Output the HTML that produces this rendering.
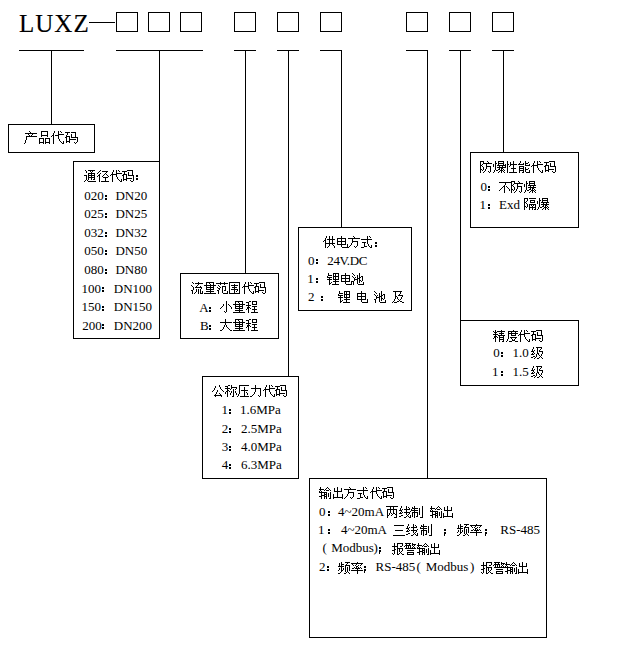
<!DOCTYPE html>
<html><head><meta charset="utf-8">
<style>
html,body{margin:0;padding:0;background:#fff;}
body{width:621px;height:656px;position:relative;overflow:hidden;font-family:"Liberation Serif",serif;color:#000;}
.h{position:absolute;height:1px;background:#000;}
.v{position:absolute;width:1px;background:#000;}
.sq{position:absolute;top:12px;width:20px;height:18px;border:1px solid #000;}
.bx{position:absolute;border:1px solid #000;box-sizing:border-box;}
.t{position:absolute;white-space:nowrap;font-size:12.5px;line-height:16px;color:#000;}
.g{position:absolute;shape-rendering:crispEdges;fill:#000;}
.k{position:absolute;width:2px;height:2px;background:#000;box-shadow:0 3px 0 #000;}
.s{position:absolute;width:2px;height:2px;background:#000;}
.s:after{content:'';position:absolute;left:0;top:3px;width:2px;height:2px;background:#000;}
.s:before{content:'';position:absolute;left:0;top:5px;width:1px;height:2px;background:#000;}
</style></head><body>
<div class="t" style="left:19px;top:9px;font-size:25px;line-height:30px;letter-spacing:1px;color:#000;-webkit-text-stroke:0.15px #000;">LUXZ</div>
<div class="h" style="left:89px;top:22px;width:26px;"></div>
<div class="sq" style="left:116px"></div>
<div class="sq" style="left:148px"></div>
<div class="sq" style="left:180px"></div>
<div class="sq" style="left:234px"></div>
<div class="sq" style="left:277px"></div>
<div class="sq" style="left:320px"></div>
<div class="sq" style="left:406px"></div>
<div class="sq" style="left:449px"></div>
<div class="sq" style="left:492px"></div>

<div class="h" style="left:19px;top:50px;width:65px;"></div>
<div class="h" style="left:116px;top:50px;width:87px;"></div>
<div class="h" style="left:234px;top:50px;width:22px;"></div>
<div class="h" style="left:277px;top:50px;width:22px;"></div>
<div class="h" style="left:320px;top:50px;width:22px;"></div>
<div class="h" style="left:406px;top:50px;width:22px;"></div>
<div class="h" style="left:449px;top:50px;width:22px;"></div>
<div class="h" style="left:492px;top:50px;width:22px;"></div>

<div class="v" style="left:51px;top:50px;height:75px;"></div>
<div class="v" style="left:159px;top:50px;height:112px;"></div>
<div class="v" style="left:245px;top:50px;height:224px;"></div>
<div class="v" style="left:288px;top:50px;height:327px;"></div>
<div class="v" style="left:341px;top:50px;height:178px;"></div>
<div class="v" style="left:427px;top:50px;height:429px;"></div>
<div class="v" style="left:460px;top:50px;height:271px;"></div>
<div class="v" style="left:503px;top:50px;height:103px;"></div>

<div class="bx" style="left:8px;top:124px;width:87px;height:29px;"></div>
<div class="bx" style="left:73px;top:161px;width:87px;height:178px;"></div>
<div class="bx" style="left:180px;top:273px;width:99px;height:66px;"></div>
<div class="bx" style="left:298px;top:227px;width:114px;height:84px;"></div>
<div class="bx" style="left:202px;top:376px;width:97px;height:103px;"></div>
<div class="bx" style="left:470px;top:152px;width:109px;height:76px;"></div>
<div class="bx" style="left:460px;top:320px;width:119px;height:66px;"></div>
<div class="bx" style="left:309px;top:478px;width:238px;height:160px;"></div>

<svg class="g" style="left:24px;top:131px" width="54" height="13" viewBox="0 0 54 13"><title>产品代码</title><path d="M5 0h1v1h-1zM17 0h7v1h-7zM30 0h1v1h-1zM34 0h1v1h-1zM36 0h1v1h-1zM6 1h1v1h-1zM17 1h1v1h-1zM23 1h1v1h-1zM30 1h1v1h-1zM34 1h1v1h-1zM37 1h1v1h-1zM41 1h5v1h-5zM47 1h5v1h-5zM1 2h12v1h-12zM17 2h1v1h-1zM23 2h1v1h-1zM29 2h1v1h-1zM34 2h1v1h-1zM43 2h1v1h-1zM51 2h1v1h-1zM4 3h1v1h-1zM8 3h1v1h-1zM17 3h1v1h-1zM23 3h1v1h-1zM29 3h1v1h-1zM34 3h6v1h-6zM43 3h1v1h-1zM47 3h1v1h-1zM51 3h1v1h-1zM5 4h1v1h-1zM7 4h1v1h-1zM17 4h7v1h-7zM28 4h2v1h-2zM31 4h4v1h-4zM42 4h1v1h-1zM47 4h1v1h-1zM51 4h1v1h-1zM2 5h11v1h-11zM17 5h1v1h-1zM23 5h1v1h-1zM27 5h1v1h-1zM29 5h1v1h-1zM34 5h1v1h-1zM42 5h4v1h-4zM47 5h1v1h-1zM51 5h1v1h-1zM2 6h1v1h-1zM29 6h1v1h-1zM34 6h1v1h-1zM41 6h2v1h-2zM45 6h1v1h-1zM47 6h7v1h-7zM2 7h1v1h-1zM15 7h5v1h-5zM21 7h5v1h-5zM29 7h1v1h-1zM34 7h1v1h-1zM42 7h1v1h-1zM45 7h1v1h-1zM53 7h1v1h-1zM2 8h1v1h-1zM15 8h1v1h-1zM19 8h1v1h-1zM21 8h1v1h-1zM25 8h1v1h-1zM29 8h1v1h-1zM35 8h1v1h-1zM42 8h1v1h-1zM45 8h7v1h-7zM53 8h1v1h-1zM1 9h1v1h-1zM15 9h1v1h-1zM19 9h1v1h-1zM21 9h1v1h-1zM25 9h1v1h-1zM29 9h1v1h-1zM35 9h1v1h-1zM42 9h1v1h-1zM45 9h1v1h-1zM53 9h1v1h-1zM1 10h1v1h-1zM15 10h1v1h-1zM19 10h1v1h-1zM21 10h1v1h-1zM25 10h1v1h-1zM29 10h1v1h-1zM36 10h1v1h-1zM39 10h1v1h-1zM42 10h4v1h-4zM53 10h1v1h-1zM1 11h1v1h-1zM15 11h5v1h-5zM21 11h5v1h-5zM29 11h1v1h-1zM37 11h1v1h-1zM39 11h1v1h-1zM42 11h1v1h-1zM45 11h1v1h-1zM50 11h1v1h-1zM52 11h1v1h-1zM0 12h1v1h-1zM15 12h1v1h-1zM19 12h1v1h-1zM21 12h1v1h-1zM25 12h1v1h-1zM29 12h1v1h-1zM38 12h2v1h-2zM51 12h1v1h-1z"/></svg>
<svg class="g" style="left:84px;top:170px" width="50" height="12" viewBox="0 0 50 12"><title>通径代码</title><path d="M1 0h1v1h-1zM4 0h7v1h-7zM16 0h1v1h-1zM29 0h1v1h-1zM32 0h1v1h-1zM34 0h1v1h-1zM43 0h6v1h-6zM2 1h1v1h-1zM6 1h1v1h-1zM8 1h1v1h-1zM15 1h1v1h-1zM18 1h6v1h-6zM29 1h1v1h-1zM32 1h1v1h-1zM35 1h1v1h-1zM38 1h5v1h-5zM48 1h1v1h-1zM2 2h1v1h-1zM7 2h1v1h-1zM14 2h1v1h-1zM22 2h1v1h-1zM28 2h1v1h-1zM32 2h1v1h-1zM40 2h1v1h-1zM44 2h1v1h-1zM48 2h1v1h-1zM4 3h7v1h-7zM13 3h1v1h-1zM16 3h1v1h-1zM21 3h1v1h-1zM28 3h1v1h-1zM32 3h6v1h-6zM40 3h1v1h-1zM44 3h1v1h-1zM48 3h1v1h-1zM4 4h1v1h-1zM7 4h1v1h-1zM10 4h1v1h-1zM15 4h1v1h-1zM20 4h1v1h-1zM22 4h1v1h-1zM27 4h6v1h-6zM39 4h4v1h-4zM44 4h1v1h-1zM48 4h1v1h-1zM0 5h3v1h-3zM4 5h7v1h-7zM14 5h2v1h-2zM19 5h1v1h-1zM23 5h1v1h-1zM26 5h1v1h-1zM28 5h1v1h-1zM32 5h1v1h-1zM38 5h2v1h-2zM42 5h1v1h-1zM44 5h6v1h-6zM2 6h1v1h-1zM4 6h1v1h-1zM7 6h1v1h-1zM10 6h1v1h-1zM13 6h1v1h-1zM15 6h1v1h-1zM18 6h1v1h-1zM24 6h1v1h-1zM28 6h1v1h-1zM32 6h1v1h-1zM39 6h1v1h-1zM42 6h1v1h-1zM49 6h1v1h-1zM2 7h1v1h-1zM4 7h7v1h-7zM15 7h1v1h-1zM19 7h5v1h-5zM28 7h1v1h-1zM33 7h1v1h-1zM39 7h1v1h-1zM42 7h1v1h-1zM49 7h1v1h-1zM2 8h1v1h-1zM4 8h1v1h-1zM7 8h1v1h-1zM10 8h1v1h-1zM15 8h1v1h-1zM21 8h1v1h-1zM28 8h1v1h-1zM33 8h1v1h-1zM39 8h1v1h-1zM42 8h6v1h-6zM49 8h1v1h-1zM2 9h1v1h-1zM4 9h1v1h-1zM7 9h1v1h-1zM9 9h2v1h-2zM15 9h1v1h-1zM21 9h1v1h-1zM28 9h1v1h-1zM34 9h1v1h-1zM37 9h1v1h-1zM39 9h4v1h-4zM49 9h1v1h-1zM1 10h1v1h-1zM3 10h1v1h-1zM15 10h1v1h-1zM21 10h1v1h-1zM28 10h1v1h-1zM35 10h1v1h-1zM37 10h1v1h-1zM39 10h1v1h-1zM42 10h1v1h-1zM46 10h1v1h-1zM49 10h1v1h-1zM0 11h1v1h-1zM4 11h8v1h-8zM15 11h1v1h-1zM17 11h8v1h-8zM28 11h1v1h-1zM36 11h2v1h-2zM47 11h2v1h-2z"/></svg>
<div class="k" style="left:136px;top:175px;"></div>
<div class="t" style="left:84.2px;top:187.6px;font-size:13px;">020</div>
<div class="k" style="left:105px;top:195px;"></div>
<div class="t" style="left:115.4px;top:187.6px;font-size:13px;">DN20</div>
<div class="t" style="left:84.2px;top:206.2px;font-size:13px;">025</div>
<div class="k" style="left:105px;top:213px;"></div>
<div class="t" style="left:115.4px;top:206.2px;font-size:13px;">DN25</div>
<div class="t" style="left:84.2px;top:224.8px;font-size:13px;">032</div>
<div class="k" style="left:105px;top:232px;"></div>
<div class="t" style="left:115.4px;top:224.8px;font-size:13px;">DN32</div>
<div class="t" style="left:84.2px;top:243.3px;font-size:13px;">050</div>
<div class="k" style="left:105px;top:250px;"></div>
<div class="t" style="left:115.4px;top:243.3px;font-size:13px;">DN50</div>
<div class="t" style="left:84.2px;top:261.9px;font-size:13px;">080</div>
<div class="k" style="left:105px;top:269px;"></div>
<div class="t" style="left:115.4px;top:261.9px;font-size:13px;">DN80</div>
<div class="t" style="left:81.4px;top:280.5px;font-size:13px;">100</div>
<div class="k" style="left:102px;top:287px;"></div>
<div class="t" style="left:113.8px;top:280.5px;font-size:13px;">DN100</div>
<div class="t" style="left:81.4px;top:299.0px;font-size:13px;">150</div>
<div class="k" style="left:102px;top:306px;"></div>
<div class="t" style="left:113.8px;top:299.0px;font-size:13px;">DN150</div>
<div class="t" style="left:82.2px;top:317.6px;font-size:13px;">200</div>
<div class="k" style="left:102px;top:324px;"></div>
<div class="t" style="left:113.8px;top:317.6px;font-size:13px;">DN200</div>
<svg class="g" style="left:191px;top:282px" width="75" height="12" viewBox="0 0 75 12"><title>流量范围代码</title><path d="M1 0h1v1h-1zM7 0h1v1h-1zM15 0h8v1h-8zM29 0h1v1h-1zM33 0h1v1h-1zM38 0h11v1h-11zM54 0h1v1h-1zM57 0h1v1h-1zM59 0h1v1h-1zM68 0h6v1h-6zM2 1h1v1h-1zM4 1h8v1h-8zM15 1h1v1h-1zM18 1h1v1h-1zM22 1h1v1h-1zM25 1h12v1h-12zM38 1h1v1h-1zM48 1h1v1h-1zM54 1h1v1h-1zM57 1h1v1h-1zM60 1h1v1h-1zM63 1h5v1h-5zM73 1h1v1h-1zM7 2h1v1h-1zM15 2h1v1h-1zM19 2h1v1h-1zM22 2h1v1h-1zM29 2h1v1h-1zM33 2h1v1h-1zM38 2h1v1h-1zM43 2h1v1h-1zM48 2h1v1h-1zM53 2h1v1h-1zM57 2h1v1h-1zM65 2h1v1h-1zM69 2h1v1h-1zM73 2h1v1h-1zM0 3h1v1h-1zM6 3h1v1h-1zM13 3h12v1h-12zM27 3h1v1h-1zM38 3h1v1h-1zM40 3h7v1h-7zM48 3h1v1h-1zM53 3h1v1h-1zM57 3h6v1h-6zM65 3h1v1h-1zM69 3h1v1h-1zM73 3h1v1h-1zM1 4h1v1h-1zM5 4h1v1h-1zM9 4h1v1h-1zM15 4h1v1h-1zM19 4h1v1h-1zM22 4h1v1h-1zM28 4h1v1h-1zM31 4h4v1h-4zM38 4h1v1h-1zM43 4h1v1h-1zM48 4h1v1h-1zM52 4h6v1h-6zM64 4h4v1h-4zM69 4h1v1h-1zM73 4h1v1h-1zM2 5h1v1h-1zM4 5h7v1h-7zM15 5h8v1h-8zM26 5h1v1h-1zM29 5h1v1h-1zM31 5h1v1h-1zM34 5h1v1h-1zM38 5h1v1h-1zM41 5h5v1h-5zM48 5h1v1h-1zM51 5h1v1h-1zM53 5h1v1h-1zM57 5h1v1h-1zM63 5h2v1h-2zM67 5h1v1h-1zM69 5h6v1h-6zM2 6h1v1h-1zM10 6h1v1h-1zM15 6h1v1h-1zM19 6h1v1h-1zM22 6h1v1h-1zM27 6h2v1h-2zM31 6h1v1h-1zM34 6h1v1h-1zM38 6h1v1h-1zM43 6h1v1h-1zM48 6h1v1h-1zM53 6h1v1h-1zM57 6h1v1h-1zM64 6h1v1h-1zM67 6h1v1h-1zM74 6h1v1h-1zM2 7h1v1h-1zM5 7h1v1h-1zM7 7h1v1h-1zM9 7h1v1h-1zM15 7h8v1h-8zM28 7h1v1h-1zM31 7h1v1h-1zM34 7h1v1h-1zM38 7h1v1h-1zM40 7h7v1h-7zM48 7h1v1h-1zM53 7h1v1h-1zM58 7h1v1h-1zM64 7h1v1h-1zM67 7h1v1h-1zM74 7h1v1h-1zM0 8h2v1h-2zM5 8h1v1h-1zM7 8h1v1h-1zM9 8h1v1h-1zM19 8h1v1h-1zM26 8h2v1h-2zM31 8h1v1h-1zM33 8h2v1h-2zM38 8h1v1h-1zM43 8h1v1h-1zM46 8h1v1h-1zM48 8h1v1h-1zM53 8h1v1h-1zM58 8h1v1h-1zM64 8h1v1h-1zM67 8h6v1h-6zM74 8h1v1h-1zM1 9h1v1h-1zM5 9h1v1h-1zM7 9h1v1h-1zM9 9h1v1h-1zM11 9h1v1h-1zM15 9h8v1h-8zM27 9h1v1h-1zM31 9h1v1h-1zM36 9h1v1h-1zM38 9h1v1h-1zM43 9h1v1h-1zM45 9h1v1h-1zM48 9h1v1h-1zM53 9h1v1h-1zM59 9h1v1h-1zM62 9h1v1h-1zM64 9h4v1h-4zM74 9h1v1h-1zM1 10h1v1h-1zM4 10h1v1h-1zM7 10h1v1h-1zM9 10h1v1h-1zM11 10h1v1h-1zM19 10h1v1h-1zM27 10h1v1h-1zM31 10h1v1h-1zM36 10h1v1h-1zM38 10h1v1h-1zM43 10h1v1h-1zM48 10h1v1h-1zM53 10h1v1h-1zM60 10h1v1h-1zM62 10h1v1h-1zM64 10h1v1h-1zM67 10h1v1h-1zM71 10h1v1h-1zM74 10h1v1h-1zM1 11h1v1h-1zM3 11h1v1h-1zM7 11h1v1h-1zM9 11h3v1h-3zM13 11h12v1h-12zM27 11h1v1h-1zM32 11h5v1h-5zM38 11h11v1h-11zM53 11h1v1h-1zM61 11h2v1h-2zM72 11h2v1h-2z"/></svg>
<div class="t" style="left:199.3px;top:300.1px;font-size:13px;">A</div>
<div class="k" style="left:209px;top:307px;"></div>
<svg class="g" style="left:220px;top:301px" width="38" height="12" viewBox="0 0 38 12"><title>小量程</title><path d="M6 0h1v1h-1zM15 0h8v1h-8zM29 0h2v1h-2zM32 0h5v1h-5zM6 1h1v1h-1zM15 1h1v1h-1zM18 1h1v1h-1zM22 1h1v1h-1zM26 1h3v1h-3zM32 1h1v1h-1zM36 1h1v1h-1zM6 2h1v1h-1zM15 2h1v1h-1zM19 2h1v1h-1zM22 2h1v1h-1zM28 2h1v1h-1zM32 2h1v1h-1zM36 2h1v1h-1zM3 3h1v1h-1zM6 3h1v1h-1zM8 3h1v1h-1zM13 3h12v1h-12zM28 3h1v1h-1zM32 3h5v1h-5zM3 4h1v1h-1zM6 4h1v1h-1zM9 4h1v1h-1zM15 4h1v1h-1zM19 4h1v1h-1zM22 4h1v1h-1zM26 4h5v1h-5zM2 5h1v1h-1zM6 5h1v1h-1zM10 5h1v1h-1zM15 5h8v1h-8zM28 5h1v1h-1zM32 5h5v1h-5zM1 6h1v1h-1zM6 6h1v1h-1zM11 6h1v1h-1zM15 6h1v1h-1zM19 6h1v1h-1zM22 6h1v1h-1zM27 6h3v1h-3zM34 6h1v1h-1zM0 7h1v1h-1zM6 7h1v1h-1zM11 7h1v1h-1zM15 7h8v1h-8zM27 7h2v1h-2zM30 7h1v1h-1zM34 7h1v1h-1zM6 8h1v1h-1zM19 8h1v1h-1zM26 8h1v1h-1zM28 8h1v1h-1zM32 8h5v1h-5zM6 9h1v1h-1zM15 9h8v1h-8zM28 9h1v1h-1zM34 9h1v1h-1zM4 10h1v1h-1zM6 10h1v1h-1zM19 10h1v1h-1zM28 10h1v1h-1zM34 10h1v1h-1zM5 11h1v1h-1zM13 11h12v1h-12zM28 11h1v1h-1zM31 11h7v1h-7z"/></svg>
<div class="t" style="left:200.0px;top:317.6px;font-size:13px;">B</div>
<div class="k" style="left:209px;top:325px;"></div>
<svg class="g" style="left:220px;top:319px" width="38" height="12" viewBox="0 0 38 12"><title>大量程</title><path d="M5 0h1v1h-1zM15 0h8v1h-8zM29 0h2v1h-2zM32 0h5v1h-5zM5 1h1v1h-1zM15 1h1v1h-1zM18 1h1v1h-1zM22 1h1v1h-1zM26 1h3v1h-3zM32 1h1v1h-1zM36 1h1v1h-1zM5 2h1v1h-1zM15 2h1v1h-1zM19 2h1v1h-1zM22 2h1v1h-1zM28 2h1v1h-1zM32 2h1v1h-1zM36 2h1v1h-1zM0 3h12v1h-12zM13 3h12v1h-12zM28 3h1v1h-1zM32 3h5v1h-5zM5 4h1v1h-1zM15 4h1v1h-1zM19 4h1v1h-1zM22 4h1v1h-1zM26 4h5v1h-5zM5 5h1v1h-1zM15 5h8v1h-8zM28 5h1v1h-1zM32 5h5v1h-5zM4 6h1v1h-1zM6 6h1v1h-1zM15 6h1v1h-1zM19 6h1v1h-1zM22 6h1v1h-1zM27 6h3v1h-3zM34 6h1v1h-1zM4 7h1v1h-1zM6 7h1v1h-1zM15 7h8v1h-8zM27 7h2v1h-2zM30 7h1v1h-1zM34 7h1v1h-1zM3 8h1v1h-1zM7 8h1v1h-1zM19 8h1v1h-1zM26 8h1v1h-1zM28 8h1v1h-1zM32 8h5v1h-5zM3 9h1v1h-1zM8 9h1v1h-1zM15 9h8v1h-8zM28 9h1v1h-1zM34 9h1v1h-1zM2 10h1v1h-1zM9 10h1v1h-1zM19 10h1v1h-1zM28 10h1v1h-1zM34 10h1v1h-1zM0 11h2v1h-2zM10 11h2v1h-2zM13 11h12v1h-12zM28 11h1v1h-1zM31 11h7v1h-7z"/></svg>
<svg class="g" style="left:323px;top:236px" width="49" height="12" viewBox="0 0 49 12"><title>供电方式</title><path d="M3 0h1v1h-1zM6 0h1v1h-1zM9 0h1v1h-1zM18 0h1v1h-1zM30 0h1v1h-1zM44 0h1v1h-1zM46 0h1v1h-1zM3 1h1v1h-1zM6 1h1v1h-1zM9 1h1v1h-1zM18 1h1v1h-1zM31 1h1v1h-1zM44 1h1v1h-1zM47 1h1v1h-1zM2 2h1v1h-1zM6 2h1v1h-1zM9 2h1v1h-1zM14 2h9v1h-9zM25 2h12v1h-12zM44 2h1v1h-1zM2 3h1v1h-1zM4 3h8v1h-8zM14 3h1v1h-1zM18 3h1v1h-1zM22 3h1v1h-1zM29 3h1v1h-1zM38 3h11v1h-11zM1 4h2v1h-2zM6 4h1v1h-1zM9 4h1v1h-1zM14 4h1v1h-1zM18 4h1v1h-1zM22 4h1v1h-1zM29 4h1v1h-1zM44 4h1v1h-1zM0 5h1v1h-1zM2 5h1v1h-1zM6 5h1v1h-1zM9 5h1v1h-1zM14 5h9v1h-9zM29 5h6v1h-6zM44 5h1v1h-1zM2 6h1v1h-1zM6 6h1v1h-1zM9 6h1v1h-1zM14 6h1v1h-1zM18 6h1v1h-1zM22 6h1v1h-1zM29 6h1v1h-1zM34 6h1v1h-1zM39 6h4v1h-4zM44 6h1v1h-1zM2 7h10v1h-10zM14 7h1v1h-1zM18 7h1v1h-1zM22 7h1v1h-1zM28 7h1v1h-1zM34 7h1v1h-1zM41 7h1v1h-1zM44 7h1v1h-1zM2 8h1v1h-1zM6 8h1v1h-1zM9 8h1v1h-1zM14 8h9v1h-9zM24 8h1v1h-1zM28 8h1v1h-1zM34 8h1v1h-1zM41 8h1v1h-1zM45 8h1v1h-1zM2 9h1v1h-1zM6 9h1v1h-1zM10 9h1v1h-1zM18 9h1v1h-1zM24 9h1v1h-1zM27 9h1v1h-1zM34 9h1v1h-1zM41 9h1v1h-1zM45 9h1v1h-1zM48 9h1v1h-1zM2 10h1v1h-1zM5 10h1v1h-1zM11 10h1v1h-1zM18 10h1v1h-1zM24 10h1v1h-1zM26 10h1v1h-1zM31 10h1v1h-1zM33 10h1v1h-1zM41 10h3v1h-3zM46 10h1v1h-1zM48 10h1v1h-1zM2 11h1v1h-1zM4 11h1v1h-1zM11 11h1v1h-1zM19 11h7v1h-7zM32 11h1v1h-1zM38 11h3v1h-3zM47 11h2v1h-2z"/></svg>
<div class="k" style="left:375px;top:242px;"></div>
<div class="t" style="left:308.0px;top:252.5px;font-size:13px;">0</div>
<div class="k" style="left:316px;top:259px;"></div>
<div class="t" style="left:327.3px;top:252.5px;font-size:13px;letter-spacing:-0.4px;">24V.DC</div>
<div class="t" style="left:307.3px;top:271.2px;font-size:13px;">1</div>
<div class="k" style="left:316px;top:278px;"></div>
<svg class="g" style="left:327px;top:273px" width="37" height="12" viewBox="0 0 37 12"><title>锂电池</title><path d="M1 0h1v1h-1zM6 0h6v1h-6zM18 0h1v1h-1zM25 0h1v1h-1zM32 0h1v1h-1zM1 1h1v1h-1zM6 1h1v1h-1zM8 1h1v1h-1zM11 1h1v1h-1zM18 1h1v1h-1zM26 1h1v1h-1zM32 1h1v1h-1zM1 2h4v1h-4zM6 2h1v1h-1zM8 2h1v1h-1zM11 2h1v1h-1zM14 2h9v1h-9zM27 2h1v1h-1zM30 2h1v1h-1zM32 2h1v1h-1zM0 3h1v1h-1zM6 3h6v1h-6zM14 3h1v1h-1zM18 3h1v1h-1zM22 3h1v1h-1zM25 3h1v1h-1zM30 3h1v1h-1zM32 3h1v1h-1zM34 3h2v1h-2zM0 4h5v1h-5zM6 4h1v1h-1zM8 4h1v1h-1zM11 4h1v1h-1zM14 4h1v1h-1zM18 4h1v1h-1zM22 4h1v1h-1zM26 4h1v1h-1zM28 4h1v1h-1zM30 4h1v1h-1zM32 4h2v1h-2zM35 4h1v1h-1zM2 5h1v1h-1zM6 5h1v1h-1zM8 5h1v1h-1zM11 5h1v1h-1zM14 5h9v1h-9zM27 5h1v1h-1zM30 5h3v1h-3zM35 5h1v1h-1zM0 6h5v1h-5zM6 6h6v1h-6zM14 6h1v1h-1zM18 6h1v1h-1zM22 6h1v1h-1zM27 6h4v1h-4zM32 6h1v1h-1zM35 6h1v1h-1zM2 7h1v1h-1zM8 7h1v1h-1zM14 7h1v1h-1zM18 7h1v1h-1zM22 7h1v1h-1zM27 7h1v1h-1zM30 7h1v1h-1zM32 7h2v1h-2zM35 7h1v1h-1zM2 8h1v1h-1zM6 8h6v1h-6zM14 8h9v1h-9zM24 8h3v1h-3zM30 8h1v1h-1zM32 8h1v1h-1zM34 8h1v1h-1zM2 9h1v1h-1zM4 9h1v1h-1zM8 9h1v1h-1zM18 9h1v1h-1zM24 9h1v1h-1zM26 9h1v1h-1zM30 9h1v1h-1zM32 9h1v1h-1zM36 9h1v1h-1zM2 10h2v1h-2zM8 10h1v1h-1zM18 10h1v1h-1zM24 10h1v1h-1zM26 10h1v1h-1zM30 10h1v1h-1zM36 10h1v1h-1zM2 11h1v1h-1zM5 11h7v1h-7zM19 11h6v1h-6zM26 11h1v1h-1zM31 11h6v1h-6z"/></svg>
<div class="t" style="left:308.0px;top:288.7px;font-size:13px;">2</div>
<div class="k" style="left:321px;top:296px;"></div>
<svg class="g" style="left:338px;top:291px" width="66" height="12" viewBox="0 0 66 12"><title>锂电池及</title><path d="M1 0h1v1h-1zM6 0h6v1h-6zM23 0h1v1h-1zM36 0h1v1h-1zM43 0h1v1h-1zM55 0h9v1h-9zM1 1h1v1h-1zM6 1h1v1h-1zM8 1h1v1h-1zM11 1h1v1h-1zM23 1h1v1h-1zM37 1h1v1h-1zM43 1h1v1h-1zM57 1h1v1h-1zM62 1h1v1h-1zM1 2h4v1h-4zM6 2h1v1h-1zM8 2h1v1h-1zM11 2h1v1h-1zM19 2h9v1h-9zM38 2h1v1h-1zM41 2h1v1h-1zM43 2h1v1h-1zM57 2h1v1h-1zM62 2h1v1h-1zM0 3h1v1h-1zM6 3h6v1h-6zM19 3h1v1h-1zM23 3h1v1h-1zM27 3h1v1h-1zM36 3h1v1h-1zM41 3h1v1h-1zM43 3h1v1h-1zM45 3h2v1h-2zM57 3h1v1h-1zM61 3h1v1h-1zM0 4h5v1h-5zM6 4h1v1h-1zM8 4h1v1h-1zM11 4h1v1h-1zM19 4h1v1h-1zM23 4h1v1h-1zM27 4h1v1h-1zM37 4h1v1h-1zM39 4h1v1h-1zM41 4h1v1h-1zM43 4h2v1h-2zM46 4h1v1h-1zM57 4h1v1h-1zM60 4h5v1h-5zM2 5h1v1h-1zM6 5h1v1h-1zM8 5h1v1h-1zM11 5h1v1h-1zM19 5h9v1h-9zM38 5h1v1h-1zM41 5h3v1h-3zM46 5h1v1h-1zM57 5h2v1h-2zM64 5h1v1h-1zM0 6h5v1h-5zM6 6h6v1h-6zM19 6h1v1h-1zM23 6h1v1h-1zM27 6h1v1h-1zM38 6h4v1h-4zM43 6h1v1h-1zM46 6h1v1h-1zM57 6h1v1h-1zM59 6h1v1h-1zM63 6h1v1h-1zM2 7h1v1h-1zM8 7h1v1h-1zM19 7h1v1h-1zM23 7h1v1h-1zM27 7h1v1h-1zM38 7h1v1h-1zM41 7h1v1h-1zM43 7h2v1h-2zM46 7h1v1h-1zM57 7h1v1h-1zM59 7h1v1h-1zM63 7h1v1h-1zM2 8h1v1h-1zM6 8h6v1h-6zM19 8h9v1h-9zM29 8h1v1h-1zM36 8h2v1h-2zM41 8h1v1h-1zM43 8h1v1h-1zM45 8h1v1h-1zM56 8h1v1h-1zM60 8h1v1h-1zM62 8h1v1h-1zM2 9h1v1h-1zM4 9h1v1h-1zM8 9h1v1h-1zM23 9h1v1h-1zM29 9h1v1h-1zM37 9h1v1h-1zM41 9h1v1h-1zM43 9h1v1h-1zM47 9h1v1h-1zM56 9h1v1h-1zM61 9h1v1h-1zM2 10h2v1h-2zM8 10h1v1h-1zM23 10h1v1h-1zM29 10h1v1h-1zM37 10h1v1h-1zM41 10h1v1h-1zM47 10h1v1h-1zM55 10h1v1h-1zM59 10h2v1h-2zM62 10h2v1h-2zM2 11h1v1h-1zM5 11h7v1h-7zM24 11h6v1h-6zM37 11h1v1h-1zM42 11h6v1h-6zM54 11h1v1h-1zM56 11h3v1h-3zM64 11h2v1h-2z"/></svg>
<svg class="g" style="left:212px;top:385px" width="75" height="12" viewBox="0 0 75 12"><title>公称压力代码</title><path d="M7 0h1v1h-1zM16 0h2v1h-2zM19 0h1v1h-1zM27 0h10v1h-10zM43 0h1v1h-1zM54 0h1v1h-1zM57 0h1v1h-1zM59 0h1v1h-1zM68 0h6v1h-6zM3 1h1v1h-1zM7 1h1v1h-1zM13 1h3v1h-3zM19 1h1v1h-1zM27 1h1v1h-1zM43 1h1v1h-1zM54 1h1v1h-1zM57 1h1v1h-1zM60 1h1v1h-1zM63 1h5v1h-5zM73 1h1v1h-1zM3 2h1v1h-1zM8 2h1v1h-1zM15 2h1v1h-1zM19 2h6v1h-6zM27 2h1v1h-1zM32 2h1v1h-1zM43 2h1v1h-1zM53 2h1v1h-1zM57 2h1v1h-1zM65 2h1v1h-1zM69 2h1v1h-1zM73 2h1v1h-1zM2 3h1v1h-1zM8 3h1v1h-1zM13 3h5v1h-5zM19 3h1v1h-1zM24 3h1v1h-1zM27 3h1v1h-1zM32 3h1v1h-1zM39 3h10v1h-10zM53 3h1v1h-1zM57 3h6v1h-6zM65 3h1v1h-1zM69 3h1v1h-1zM73 3h1v1h-1zM2 4h1v1h-1zM9 4h1v1h-1zM15 4h1v1h-1zM18 4h1v1h-1zM21 4h1v1h-1zM23 4h1v1h-1zM27 4h1v1h-1zM32 4h1v1h-1zM43 4h1v1h-1zM48 4h1v1h-1zM52 4h6v1h-6zM64 4h4v1h-4zM69 4h1v1h-1zM73 4h1v1h-1zM1 5h1v1h-1zM5 5h1v1h-1zM10 5h1v1h-1zM15 5h2v1h-2zM21 5h1v1h-1zM27 5h1v1h-1zM29 5h7v1h-7zM43 5h1v1h-1zM48 5h1v1h-1zM51 5h1v1h-1zM53 5h1v1h-1zM57 5h1v1h-1zM63 5h2v1h-2zM67 5h1v1h-1zM69 5h6v1h-6zM0 6h1v1h-1zM5 6h1v1h-1zM11 6h1v1h-1zM14 6h2v1h-2zM17 6h1v1h-1zM19 6h1v1h-1zM21 6h1v1h-1zM23 6h1v1h-1zM27 6h1v1h-1zM32 6h1v1h-1zM43 6h1v1h-1zM48 6h1v1h-1zM53 6h1v1h-1zM57 6h1v1h-1zM64 6h1v1h-1zM67 6h1v1h-1zM74 6h1v1h-1zM4 7h1v1h-1zM13 7h1v1h-1zM15 7h1v1h-1zM19 7h1v1h-1zM21 7h1v1h-1zM23 7h1v1h-1zM27 7h1v1h-1zM32 7h1v1h-1zM34 7h1v1h-1zM42 7h1v1h-1zM48 7h1v1h-1zM53 7h1v1h-1zM58 7h1v1h-1zM64 7h1v1h-1zM67 7h1v1h-1zM74 7h1v1h-1zM4 8h1v1h-1zM7 8h1v1h-1zM13 8h1v1h-1zM15 8h1v1h-1zM18 8h1v1h-1zM21 8h1v1h-1zM24 8h1v1h-1zM27 8h1v1h-1zM32 8h1v1h-1zM35 8h1v1h-1zM42 8h1v1h-1zM48 8h1v1h-1zM53 8h1v1h-1zM58 8h1v1h-1zM64 8h1v1h-1zM67 8h6v1h-6zM74 8h1v1h-1zM3 9h1v1h-1zM8 9h1v1h-1zM15 9h1v1h-1zM18 9h1v1h-1zM21 9h1v1h-1zM24 9h1v1h-1zM26 9h1v1h-1zM32 9h1v1h-1zM35 9h1v1h-1zM41 9h1v1h-1zM48 9h1v1h-1zM53 9h1v1h-1zM59 9h1v1h-1zM62 9h1v1h-1zM64 9h4v1h-4zM74 9h1v1h-1zM2 10h8v1h-8zM15 10h1v1h-1zM21 10h1v1h-1zM26 10h1v1h-1zM32 10h1v1h-1zM40 10h1v1h-1zM46 10h1v1h-1zM48 10h1v1h-1zM53 10h1v1h-1zM60 10h1v1h-1zM62 10h1v1h-1zM64 10h1v1h-1zM67 10h1v1h-1zM71 10h1v1h-1zM74 10h1v1h-1zM3 11h1v1h-1zM9 11h1v1h-1zM15 11h1v1h-1zM20 11h2v1h-2zM25 11h1v1h-1zM28 11h9v1h-9zM38 11h2v1h-2zM47 11h1v1h-1zM53 11h1v1h-1zM61 11h2v1h-2zM72 11h2v1h-2z"/></svg>
<div class="t" style="left:221.6px;top:402.1px;font-size:13px;">1</div>
<div class="k" style="left:229px;top:409px;"></div>
<div class="t" style="left:239.9px;top:402.1px;font-size:13px;">1.6MPa</div>
<div class="t" style="left:221.8px;top:420.6px;font-size:13px;">2</div>
<div class="k" style="left:229px;top:428px;"></div>
<div class="t" style="left:241.0px;top:420.6px;font-size:13px;">2.5MPa</div>
<div class="t" style="left:221.8px;top:438.6px;font-size:13px;">3</div>
<div class="k" style="left:229px;top:446px;"></div>
<div class="t" style="left:241.0px;top:438.6px;font-size:13px;">4.0MPa</div>
<div class="t" style="left:221.8px;top:457.1px;font-size:13px;">4</div>
<div class="k" style="left:229px;top:464px;"></div>
<div class="t" style="left:241.0px;top:457.1px;font-size:13px;">6.3MPa</div>
<svg class="g" style="left:480px;top:161px" width="76" height="12" viewBox="0 0 76 12"><title>防爆性能代码</title><path d="M0 0h4v1h-4zM7 0h1v1h-1zM15 0h1v1h-1zM18 0h6v1h-6zM27 0h1v1h-1zM33 0h1v1h-1zM40 0h1v1h-1zM45 0h1v1h-1zM54 0h1v1h-1zM57 0h1v1h-1zM59 0h1v1h-1zM69 0h6v1h-6zM0 1h1v1h-1zM3 1h1v1h-1zM8 1h1v1h-1zM15 1h1v1h-1zM18 1h1v1h-1zM23 1h1v1h-1zM27 1h1v1h-1zM30 1h1v1h-1zM33 1h1v1h-1zM40 1h1v1h-1zM45 1h1v1h-1zM48 1h1v1h-1zM54 1h1v1h-1zM57 1h1v1h-1zM60 1h1v1h-1zM64 1h5v1h-5zM74 1h1v1h-1zM0 2h1v1h-1zM3 2h9v1h-9zM15 2h2v1h-2zM18 2h6v1h-6zM27 2h1v1h-1zM30 2h1v1h-1zM33 2h1v1h-1zM39 2h1v1h-1zM43 2h1v1h-1zM45 2h3v1h-3zM53 2h1v1h-1zM57 2h1v1h-1zM66 2h1v1h-1zM70 2h1v1h-1zM74 2h1v1h-1zM0 3h1v1h-1zM2 3h1v1h-1zM6 3h1v1h-1zM13 3h1v1h-1zM15 3h1v1h-1zM18 3h1v1h-1zM23 3h1v1h-1zM25 3h1v1h-1zM27 3h2v1h-2zM30 3h7v1h-7zM38 3h6v1h-6zM45 3h1v1h-1zM49 3h1v1h-1zM53 3h1v1h-1zM57 3h6v1h-6zM66 3h1v1h-1zM70 3h1v1h-1zM74 3h1v1h-1zM0 4h2v1h-2zM6 4h1v1h-1zM13 4h1v1h-1zM15 4h1v1h-1zM17 4h9v1h-9zM27 4h1v1h-1zM30 4h1v1h-1zM33 4h1v1h-1zM45 4h5v1h-5zM52 4h6v1h-6zM65 4h4v1h-4zM70 4h1v1h-1zM74 4h1v1h-1zM0 5h1v1h-1zM2 5h1v1h-1zM6 5h5v1h-5zM13 5h1v1h-1zM15 5h1v1h-1zM19 5h1v1h-1zM22 5h1v1h-1zM25 5h1v1h-1zM27 5h1v1h-1zM29 5h1v1h-1zM33 5h1v1h-1zM39 5h5v1h-5zM51 5h1v1h-1zM53 5h1v1h-1zM57 5h1v1h-1zM64 5h2v1h-2zM68 5h1v1h-1zM70 5h6v1h-6zM0 6h1v1h-1zM3 6h1v1h-1zM6 6h1v1h-1zM10 6h1v1h-1zM15 6h1v1h-1zM17 6h9v1h-9zM27 6h1v1h-1zM33 6h1v1h-1zM39 6h1v1h-1zM43 6h1v1h-1zM45 6h1v1h-1zM53 6h1v1h-1zM57 6h1v1h-1zM65 6h1v1h-1zM68 6h1v1h-1zM75 6h1v1h-1zM0 7h1v1h-1zM3 7h1v1h-1zM6 7h1v1h-1zM10 7h1v1h-1zM15 7h1v1h-1zM19 7h1v1h-1zM21 7h2v1h-2zM27 7h1v1h-1zM31 7h5v1h-5zM39 7h5v1h-5zM45 7h1v1h-1zM48 7h1v1h-1zM53 7h1v1h-1zM58 7h1v1h-1zM65 7h1v1h-1zM68 7h1v1h-1zM75 7h1v1h-1zM0 8h2v1h-2zM3 8h1v1h-1zM5 8h1v1h-1zM10 8h1v1h-1zM15 8h1v1h-1zM18 8h2v1h-2zM21 8h1v1h-1zM23 8h1v1h-1zM27 8h1v1h-1zM33 8h1v1h-1zM39 8h1v1h-1zM43 8h1v1h-1zM45 8h3v1h-3zM53 8h1v1h-1zM58 8h1v1h-1zM65 8h1v1h-1zM68 8h6v1h-6zM75 8h1v1h-1zM0 9h1v1h-1zM2 9h1v1h-1zM5 9h1v1h-1zM10 9h1v1h-1zM14 9h1v1h-1zM16 9h2v1h-2zM20 9h3v1h-3zM24 9h1v1h-1zM27 9h1v1h-1zM33 9h1v1h-1zM39 9h5v1h-5zM45 9h1v1h-1zM49 9h1v1h-1zM53 9h1v1h-1zM59 9h1v1h-1zM62 9h1v1h-1zM65 9h4v1h-4zM75 9h1v1h-1zM0 10h1v1h-1zM4 10h1v1h-1zM8 10h1v1h-1zM10 10h1v1h-1zM14 10h1v1h-1zM19 10h1v1h-1zM21 10h1v1h-1zM23 10h1v1h-1zM27 10h1v1h-1zM33 10h1v1h-1zM39 10h1v1h-1zM43 10h1v1h-1zM45 10h1v1h-1zM49 10h1v1h-1zM53 10h1v1h-1zM60 10h1v1h-1zM62 10h1v1h-1zM65 10h1v1h-1zM68 10h1v1h-1zM72 10h1v1h-1zM75 10h1v1h-1zM0 11h1v1h-1zM3 11h1v1h-1zM9 11h1v1h-1zM13 11h1v1h-1zM18 11h1v1h-1zM21 11h1v1h-1zM24 11h1v1h-1zM27 11h1v1h-1zM29 11h8v1h-8zM39 11h1v1h-1zM42 11h2v1h-2zM46 11h4v1h-4zM53 11h1v1h-1zM61 11h2v1h-2zM73 11h2v1h-2z"/></svg>
<div class="t" style="left:480.6px;top:179.0px;font-size:13px;">0</div>
<div class="k" style="left:488px;top:186px;"></div>
<svg class="g" style="left:499px;top:181px" width="37" height="12" viewBox="0 0 37 12"><title>不防爆</title><path d="M12 0h4v1h-4zM19 0h1v1h-1zM27 0h1v1h-1zM30 0h6v1h-6zM0 1h13v1h-13zM15 1h1v1h-1zM20 1h1v1h-1zM27 1h1v1h-1zM30 1h1v1h-1zM35 1h1v1h-1zM6 2h1v1h-1zM12 2h1v1h-1zM15 2h9v1h-9zM27 2h2v1h-2zM30 2h6v1h-6zM6 3h1v1h-1zM12 3h1v1h-1zM14 3h1v1h-1zM18 3h1v1h-1zM25 3h1v1h-1zM27 3h1v1h-1zM30 3h1v1h-1zM35 3h1v1h-1zM5 4h1v1h-1zM12 4h2v1h-2zM18 4h1v1h-1zM25 4h1v1h-1zM27 4h1v1h-1zM29 4h8v1h-8zM4 5h2v1h-2zM7 5h1v1h-1zM12 5h1v1h-1zM14 5h1v1h-1zM18 5h5v1h-5zM25 5h1v1h-1zM27 5h1v1h-1zM31 5h1v1h-1zM34 5h1v1h-1zM3 6h1v1h-1zM5 6h1v1h-1zM8 6h1v1h-1zM12 6h1v1h-1zM15 6h1v1h-1zM18 6h1v1h-1zM22 6h1v1h-1zM27 6h1v1h-1zM29 6h8v1h-8zM2 7h1v1h-1zM5 7h1v1h-1zM9 7h1v1h-1zM12 7h1v1h-1zM15 7h1v1h-1zM18 7h1v1h-1zM22 7h1v1h-1zM27 7h1v1h-1zM31 7h1v1h-1zM33 7h2v1h-2zM1 8h1v1h-1zM5 8h1v1h-1zM10 8h1v1h-1zM12 8h2v1h-2zM15 8h1v1h-1zM17 8h1v1h-1zM22 8h1v1h-1zM27 8h1v1h-1zM30 8h2v1h-2zM33 8h1v1h-1zM35 8h1v1h-1zM0 9h1v1h-1zM5 9h1v1h-1zM10 9h1v1h-1zM12 9h1v1h-1zM14 9h1v1h-1zM17 9h1v1h-1zM22 9h1v1h-1zM26 9h1v1h-1zM28 9h2v1h-2zM32 9h3v1h-3zM36 9h1v1h-1zM5 10h1v1h-1zM12 10h1v1h-1zM16 10h1v1h-1zM20 10h1v1h-1zM22 10h1v1h-1zM26 10h1v1h-1zM31 10h1v1h-1zM33 10h1v1h-1zM35 10h1v1h-1zM5 11h1v1h-1zM12 11h1v1h-1zM15 11h1v1h-1zM21 11h1v1h-1zM25 11h1v1h-1zM30 11h1v1h-1zM33 11h1v1h-1zM36 11h1v1h-1z"/></svg>
<div class="t" style="left:479.4px;top:196.6px;font-size:13px;">1</div>
<div class="k" style="left:488px;top:204px;"></div>
<div class="t" style="left:499.0px;top:196.6px;font-size:13px;">Exd</div>
<svg class="g" style="left:524px;top:198px" width="25" height="12" viewBox="0 0 25 12"><title>隔爆</title><path d="M0 0h4v1h-4zM5 0h7v1h-7zM15 0h1v1h-1zM18 0h6v1h-6zM0 1h1v1h-1zM3 1h1v1h-1zM15 1h1v1h-1zM18 1h1v1h-1zM23 1h1v1h-1zM0 2h1v1h-1zM3 2h1v1h-1zM6 2h5v1h-5zM15 2h2v1h-2zM18 2h6v1h-6zM0 3h1v1h-1zM2 3h1v1h-1zM6 3h1v1h-1zM10 3h1v1h-1zM13 3h1v1h-1zM15 3h1v1h-1zM18 3h1v1h-1zM23 3h1v1h-1zM0 4h2v1h-2zM6 4h5v1h-5zM13 4h1v1h-1zM15 4h1v1h-1zM17 4h8v1h-8zM0 5h1v1h-1zM2 5h1v1h-1zM13 5h1v1h-1zM15 5h1v1h-1zM19 5h1v1h-1zM22 5h1v1h-1zM0 6h1v1h-1zM3 6h1v1h-1zM5 6h7v1h-7zM15 6h1v1h-1zM17 6h8v1h-8zM0 7h1v1h-1zM3 7h1v1h-1zM5 7h1v1h-1zM7 7h1v1h-1zM9 7h1v1h-1zM11 7h1v1h-1zM15 7h1v1h-1zM19 7h1v1h-1zM21 7h2v1h-2zM0 8h2v1h-2zM3 8h1v1h-1zM5 8h1v1h-1zM8 8h1v1h-1zM11 8h1v1h-1zM15 8h1v1h-1zM18 8h2v1h-2zM21 8h1v1h-1zM23 8h1v1h-1zM0 9h1v1h-1zM2 9h1v1h-1zM5 9h7v1h-7zM14 9h1v1h-1zM16 9h2v1h-2zM20 9h3v1h-3zM24 9h1v1h-1zM0 10h1v1h-1zM5 10h1v1h-1zM8 10h1v1h-1zM11 10h1v1h-1zM14 10h1v1h-1zM19 10h1v1h-1zM21 10h1v1h-1zM23 10h1v1h-1zM0 11h1v1h-1zM5 11h1v1h-1zM8 11h1v1h-1zM10 11h2v1h-2zM13 11h1v1h-1zM18 11h1v1h-1zM21 11h1v1h-1zM24 11h1v1h-1z"/></svg>
<svg class="g" style="left:493px;top:330px" width="50" height="12" viewBox="0 0 50 12"><title>精度代码</title><path d="M2 0h1v1h-1zM8 0h1v1h-1zM20 0h1v1h-1zM28 0h1v1h-1zM31 0h1v1h-1zM33 0h1v1h-1zM43 0h6v1h-6zM0 1h1v1h-1zM2 1h1v1h-1zM4 1h8v1h-8zM15 1h10v1h-10zM28 1h1v1h-1zM31 1h1v1h-1zM34 1h1v1h-1zM38 1h5v1h-5zM48 1h1v1h-1zM1 2h3v1h-3zM8 2h1v1h-1zM15 2h1v1h-1zM18 2h1v1h-1zM22 2h1v1h-1zM27 2h1v1h-1zM31 2h1v1h-1zM40 2h1v1h-1zM44 2h1v1h-1zM48 2h1v1h-1zM2 3h1v1h-1zM6 3h5v1h-5zM15 3h10v1h-10zM27 3h1v1h-1zM31 3h6v1h-6zM40 3h1v1h-1zM44 3h1v1h-1zM48 3h1v1h-1zM0 4h5v1h-5zM8 4h1v1h-1zM15 4h1v1h-1zM18 4h1v1h-1zM22 4h1v1h-1zM26 4h6v1h-6zM39 4h4v1h-4zM44 4h1v1h-1zM48 4h1v1h-1zM2 5h1v1h-1zM5 5h7v1h-7zM15 5h1v1h-1zM18 5h5v1h-5zM25 5h1v1h-1zM27 5h1v1h-1zM31 5h1v1h-1zM38 5h2v1h-2zM42 5h1v1h-1zM44 5h6v1h-6zM1 6h3v1h-3zM6 6h1v1h-1zM10 6h1v1h-1zM15 6h1v1h-1zM27 6h1v1h-1zM31 6h1v1h-1zM39 6h1v1h-1zM42 6h1v1h-1zM49 6h1v1h-1zM1 7h2v1h-2zM4 7h1v1h-1zM6 7h5v1h-5zM15 7h1v1h-1zM17 7h7v1h-7zM27 7h1v1h-1zM32 7h1v1h-1zM39 7h1v1h-1zM42 7h1v1h-1zM49 7h1v1h-1zM0 8h1v1h-1zM2 8h1v1h-1zM6 8h1v1h-1zM10 8h1v1h-1zM15 8h1v1h-1zM18 8h1v1h-1zM22 8h1v1h-1zM27 8h1v1h-1zM32 8h1v1h-1zM39 8h1v1h-1zM42 8h6v1h-6zM49 8h1v1h-1zM2 9h1v1h-1zM6 9h5v1h-5zM14 9h1v1h-1zM19 9h1v1h-1zM21 9h1v1h-1zM27 9h1v1h-1zM33 9h1v1h-1zM36 9h1v1h-1zM39 9h4v1h-4zM49 9h1v1h-1zM2 10h1v1h-1zM6 10h1v1h-1zM10 10h1v1h-1zM14 10h1v1h-1zM19 10h3v1h-3zM27 10h1v1h-1zM34 10h1v1h-1zM36 10h1v1h-1zM39 10h1v1h-1zM42 10h1v1h-1zM46 10h1v1h-1zM49 10h1v1h-1zM2 11h1v1h-1zM6 11h1v1h-1zM9 11h2v1h-2zM13 11h1v1h-1zM16 11h3v1h-3zM22 11h3v1h-3zM27 11h1v1h-1zM35 11h2v1h-2zM47 11h2v1h-2z"/></svg>
<div class="t" style="left:493.3px;top:345.3px;font-size:13px;">0</div>
<div class="k" style="left:501px;top:352px;"></div>
<div class="t" style="left:512.5px;top:345.3px;font-size:13px;">1.0</div>
<svg class="g" style="left:531px;top:347px" width="12" height="12" viewBox="0 0 12 12"><title>级</title><path d="M2 0h1v1h-1zM5 0h6v1h-6zM2 1h1v1h-1zM6 1h1v1h-1zM10 1h1v1h-1zM1 2h1v1h-1zM6 2h1v1h-1zM9 2h1v1h-1zM1 3h1v1h-1zM3 3h1v1h-1zM6 3h1v1h-1zM8 3h1v1h-1zM0 4h3v1h-3zM6 4h1v1h-1zM8 4h4v1h-4zM2 5h1v1h-1zM6 5h1v1h-1zM11 5h1v1h-1zM1 6h1v1h-1zM3 6h1v1h-1zM6 6h2v1h-2zM11 6h1v1h-1zM0 7h3v1h-3zM5 7h1v1h-1zM7 7h1v1h-1zM10 7h1v1h-1zM5 8h1v1h-1zM8 8h1v1h-1zM10 8h1v1h-1zM2 9h2v1h-2zM5 9h1v1h-1zM9 9h1v1h-1zM0 10h2v1h-2zM4 10h1v1h-1zM8 10h1v1h-1zM10 10h1v1h-1zM3 11h1v1h-1zM6 11h2v1h-2zM11 11h1v1h-1z"/></svg>
<div class="t" style="left:492.1px;top:363.9px;font-size:13px;">1</div>
<div class="k" style="left:501px;top:371px;"></div>
<div class="t" style="left:512.5px;top:363.9px;font-size:13px;">1.5</div>
<svg class="g" style="left:531px;top:366px" width="12" height="12" viewBox="0 0 12 12"><title>级</title><path d="M2 0h1v1h-1zM5 0h6v1h-6zM2 1h1v1h-1zM6 1h1v1h-1zM10 1h1v1h-1zM1 2h1v1h-1zM6 2h1v1h-1zM9 2h1v1h-1zM1 3h1v1h-1zM3 3h1v1h-1zM6 3h1v1h-1zM8 3h1v1h-1zM0 4h3v1h-3zM6 4h1v1h-1zM8 4h4v1h-4zM2 5h1v1h-1zM6 5h1v1h-1zM11 5h1v1h-1zM1 6h1v1h-1zM3 6h1v1h-1zM6 6h2v1h-2zM11 6h1v1h-1zM0 7h3v1h-3zM5 7h1v1h-1zM7 7h1v1h-1zM10 7h1v1h-1zM5 8h1v1h-1zM8 8h1v1h-1zM10 8h1v1h-1zM2 9h2v1h-2zM5 9h1v1h-1zM9 9h1v1h-1zM0 10h2v1h-2zM4 10h1v1h-1zM8 10h1v1h-1zM10 10h1v1h-1zM3 11h1v1h-1zM6 11h2v1h-2zM11 11h1v1h-1z"/></svg>
<svg class="g" style="left:319px;top:487px" width="75" height="12" viewBox="0 0 75 12"><title>输出方式代码</title><path d="M1 0h1v1h-1zM8 0h1v1h-1zM18 0h1v1h-1zM30 0h1v1h-1zM44 0h1v1h-1zM46 0h1v1h-1zM54 0h1v1h-1zM57 0h1v1h-1zM59 0h1v1h-1zM68 0h6v1h-6zM1 1h1v1h-1zM7 1h1v1h-1zM9 1h1v1h-1zM15 1h1v1h-1zM18 1h1v1h-1zM22 1h1v1h-1zM31 1h1v1h-1zM44 1h1v1h-1zM47 1h1v1h-1zM54 1h1v1h-1zM57 1h1v1h-1zM60 1h1v1h-1zM63 1h5v1h-5zM73 1h1v1h-1zM0 2h5v1h-5zM6 2h1v1h-1zM10 2h1v1h-1zM15 2h1v1h-1zM18 2h1v1h-1zM22 2h1v1h-1zM25 2h12v1h-12zM44 2h1v1h-1zM53 2h1v1h-1zM57 2h1v1h-1zM65 2h1v1h-1zM69 2h1v1h-1zM73 2h1v1h-1zM1 3h1v1h-1zM5 3h1v1h-1zM7 3h3v1h-3zM11 3h1v1h-1zM15 3h1v1h-1zM18 3h1v1h-1zM22 3h1v1h-1zM29 3h1v1h-1zM38 3h11v1h-11zM53 3h1v1h-1zM57 3h6v1h-6zM65 3h1v1h-1zM69 3h1v1h-1zM73 3h1v1h-1zM0 4h1v1h-1zM2 4h1v1h-1zM15 4h8v1h-8zM29 4h1v1h-1zM44 4h1v1h-1zM52 4h6v1h-6zM64 4h4v1h-4zM69 4h1v1h-1zM73 4h1v1h-1zM0 5h8v1h-8zM11 5h1v1h-1zM18 5h1v1h-1zM29 5h6v1h-6zM44 5h1v1h-1zM51 5h1v1h-1zM53 5h1v1h-1zM57 5h1v1h-1zM63 5h2v1h-2zM67 5h1v1h-1zM69 5h6v1h-6zM2 6h1v1h-1zM5 6h1v1h-1zM7 6h1v1h-1zM9 6h1v1h-1zM11 6h1v1h-1zM18 6h1v1h-1zM29 6h1v1h-1zM34 6h1v1h-1zM39 6h4v1h-4zM44 6h1v1h-1zM53 6h1v1h-1zM57 6h1v1h-1zM64 6h1v1h-1zM67 6h1v1h-1zM74 6h1v1h-1zM2 7h1v1h-1zM5 7h3v1h-3zM9 7h1v1h-1zM11 7h1v1h-1zM14 7h1v1h-1zM18 7h1v1h-1zM23 7h1v1h-1zM28 7h1v1h-1zM34 7h1v1h-1zM41 7h1v1h-1zM44 7h1v1h-1zM53 7h1v1h-1zM58 7h1v1h-1zM64 7h1v1h-1zM67 7h1v1h-1zM74 7h1v1h-1zM2 8h4v1h-4zM7 8h1v1h-1zM9 8h1v1h-1zM11 8h1v1h-1zM14 8h1v1h-1zM18 8h1v1h-1zM23 8h1v1h-1zM28 8h1v1h-1zM34 8h1v1h-1zM41 8h1v1h-1zM45 8h1v1h-1zM53 8h1v1h-1zM58 8h1v1h-1zM64 8h1v1h-1zM67 8h6v1h-6zM74 8h1v1h-1zM0 9h3v1h-3zM5 9h3v1h-3zM9 9h1v1h-1zM11 9h1v1h-1zM14 9h1v1h-1zM18 9h1v1h-1zM23 9h1v1h-1zM27 9h1v1h-1zM34 9h1v1h-1zM41 9h1v1h-1zM45 9h1v1h-1zM48 9h1v1h-1zM53 9h1v1h-1zM59 9h1v1h-1zM62 9h1v1h-1zM64 9h4v1h-4zM74 9h1v1h-1zM2 10h1v1h-1zM5 10h1v1h-1zM7 10h1v1h-1zM11 10h1v1h-1zM14 10h10v1h-10zM26 10h1v1h-1zM31 10h1v1h-1zM33 10h1v1h-1zM41 10h3v1h-3zM46 10h1v1h-1zM48 10h1v1h-1zM53 10h1v1h-1zM60 10h1v1h-1zM62 10h1v1h-1zM64 10h1v1h-1zM67 10h1v1h-1zM71 10h1v1h-1zM74 10h1v1h-1zM2 11h1v1h-1zM5 11h1v1h-1zM7 11h1v1h-1zM10 11h2v1h-2zM14 11h1v1h-1zM23 11h1v1h-1zM25 11h1v1h-1zM32 11h1v1h-1zM38 11h3v1h-3zM47 11h2v1h-2zM53 11h1v1h-1zM61 11h2v1h-2zM72 11h2v1h-2z"/></svg>
<div class="t" style="left:319.1px;top:504.2px;font-size:13px;">0</div>
<div class="k" style="left:328px;top:511px;"></div>
<div class="t" style="left:338.0px;top:504.2px;font-size:13px;">4~20mA</div>
<svg class="g" style="left:386px;top:506px" width="37" height="12" viewBox="0 0 37 12"><title>两线制</title><path d="M0 0h12v1h-12zM15 0h1v1h-1zM20 0h1v1h-1zM28 0h1v1h-1zM36 0h1v1h-1zM4 1h1v1h-1zM7 1h1v1h-1zM15 1h1v1h-1zM20 1h1v1h-1zM22 1h1v1h-1zM26 1h1v1h-1zM28 1h1v1h-1zM36 1h1v1h-1zM4 2h1v1h-1zM7 2h1v1h-1zM14 2h1v1h-1zM20 2h1v1h-1zM23 2h1v1h-1zM26 2h6v1h-6zM33 2h1v1h-1zM36 2h1v1h-1zM1 3h10v1h-10zM14 3h1v1h-1zM16 3h1v1h-1zM18 3h6v1h-6zM25 3h1v1h-1zM28 3h1v1h-1zM33 3h1v1h-1zM36 3h1v1h-1zM1 4h1v1h-1zM4 4h1v1h-1zM7 4h1v1h-1zM10 4h1v1h-1zM13 4h3v1h-3zM20 4h1v1h-1zM25 4h7v1h-7zM33 4h1v1h-1zM36 4h1v1h-1zM1 5h1v1h-1zM4 5h1v1h-1zM7 5h1v1h-1zM10 5h1v1h-1zM15 5h1v1h-1zM20 5h1v1h-1zM24 5h1v1h-1zM28 5h1v1h-1zM33 5h1v1h-1zM36 5h1v1h-1zM1 6h1v1h-1zM4 6h1v1h-1zM7 6h1v1h-1zM10 6h1v1h-1zM14 6h1v1h-1zM16 6h1v1h-1zM18 6h6v1h-6zM26 6h6v1h-6zM33 6h1v1h-1zM36 6h1v1h-1zM1 7h1v1h-1zM3 7h1v1h-1zM5 7h1v1h-1zM7 7h2v1h-2zM10 7h1v1h-1zM13 7h3v1h-3zM20 7h1v1h-1zM23 7h1v1h-1zM26 7h1v1h-1zM28 7h1v1h-1zM31 7h1v1h-1zM33 7h1v1h-1zM36 7h1v1h-1zM1 8h1v1h-1zM3 8h1v1h-1zM6 8h1v1h-1zM9 8h2v1h-2zM20 8h1v1h-1zM22 8h1v1h-1zM26 8h1v1h-1zM28 8h1v1h-1zM31 8h1v1h-1zM33 8h1v1h-1zM36 8h1v1h-1zM1 9h2v1h-2zM5 9h1v1h-1zM10 9h1v1h-1zM15 9h2v1h-2zM21 9h1v1h-1zM24 9h1v1h-1zM26 9h1v1h-1zM28 9h1v1h-1zM31 9h1v1h-1zM36 9h1v1h-1zM1 10h1v1h-1zM10 10h1v1h-1zM13 10h2v1h-2zM20 10h1v1h-1zM22 10h1v1h-1zM24 10h1v1h-1zM26 10h1v1h-1zM28 10h1v1h-1zM30 10h2v1h-2zM36 10h1v1h-1zM1 11h1v1h-1zM8 11h3v1h-3zM18 11h2v1h-2zM23 11h2v1h-2zM28 11h1v1h-1zM34 11h3v1h-3z"/></svg>
<svg class="g" style="left:430px;top:506px" width="23" height="12" viewBox="0 0 23 12"><title>输出</title><path d="M1 0h1v1h-1zM8 0h1v1h-1zM17 0h1v1h-1zM1 1h1v1h-1zM7 1h1v1h-1zM9 1h1v1h-1zM14 1h1v1h-1zM17 1h1v1h-1zM21 1h1v1h-1zM0 2h5v1h-5zM6 2h1v1h-1zM10 2h1v1h-1zM14 2h1v1h-1zM17 2h1v1h-1zM21 2h1v1h-1zM1 3h1v1h-1zM5 3h1v1h-1zM7 3h3v1h-3zM11 3h1v1h-1zM14 3h1v1h-1zM17 3h1v1h-1zM21 3h1v1h-1zM0 4h1v1h-1zM2 4h1v1h-1zM14 4h8v1h-8zM0 5h8v1h-8zM11 5h1v1h-1zM17 5h1v1h-1zM2 6h1v1h-1zM5 6h1v1h-1zM7 6h1v1h-1zM9 6h1v1h-1zM11 6h1v1h-1zM17 6h1v1h-1zM2 7h1v1h-1zM5 7h3v1h-3zM9 7h1v1h-1zM11 7h1v1h-1zM13 7h1v1h-1zM17 7h1v1h-1zM22 7h1v1h-1zM2 8h4v1h-4zM7 8h1v1h-1zM9 8h1v1h-1zM11 8h1v1h-1zM13 8h1v1h-1zM17 8h1v1h-1zM22 8h1v1h-1zM0 9h3v1h-3zM5 9h3v1h-3zM9 9h1v1h-1zM11 9h1v1h-1zM13 9h1v1h-1zM17 9h1v1h-1zM22 9h1v1h-1zM2 10h1v1h-1zM5 10h1v1h-1zM7 10h1v1h-1zM11 10h1v1h-1zM13 10h10v1h-10zM2 11h1v1h-1zM5 11h1v1h-1zM7 11h1v1h-1zM10 11h2v1h-2zM13 11h1v1h-1zM22 11h1v1h-1z"/></svg>
<div class="t" style="left:317.9px;top:522.2px;font-size:13px;">1</div>
<div class="k" style="left:328px;top:529px;"></div>
<div class="t" style="left:340.9px;top:522.2px;font-size:13px;">4~20mA</div>
<svg class="g" style="left:393px;top:524px" width="39" height="12" viewBox="0 0 39 12"><title>三线制</title><path d="M15 0h1v1h-1zM20 0h1v1h-1zM30 0h1v1h-1zM38 0h1v1h-1zM1 1h10v1h-10zM15 1h1v1h-1zM20 1h1v1h-1zM22 1h1v1h-1zM28 1h1v1h-1zM30 1h1v1h-1zM38 1h1v1h-1zM14 2h1v1h-1zM20 2h1v1h-1zM23 2h1v1h-1zM28 2h6v1h-6zM35 2h1v1h-1zM38 2h1v1h-1zM14 3h1v1h-1zM16 3h1v1h-1zM18 3h6v1h-6zM27 3h1v1h-1zM30 3h1v1h-1zM35 3h1v1h-1zM38 3h1v1h-1zM13 4h3v1h-3zM20 4h1v1h-1zM27 4h7v1h-7zM35 4h1v1h-1zM38 4h1v1h-1zM15 5h1v1h-1zM20 5h1v1h-1zM24 5h1v1h-1zM30 5h1v1h-1zM35 5h1v1h-1zM38 5h1v1h-1zM2 6h8v1h-8zM14 6h1v1h-1zM16 6h1v1h-1zM18 6h6v1h-6zM28 6h6v1h-6zM35 6h1v1h-1zM38 6h1v1h-1zM13 7h3v1h-3zM20 7h1v1h-1zM23 7h1v1h-1zM28 7h1v1h-1zM30 7h1v1h-1zM33 7h1v1h-1zM35 7h1v1h-1zM38 7h1v1h-1zM20 8h1v1h-1zM22 8h1v1h-1zM28 8h1v1h-1zM30 8h1v1h-1zM33 8h1v1h-1zM35 8h1v1h-1zM38 8h1v1h-1zM15 9h2v1h-2zM21 9h1v1h-1zM24 9h1v1h-1zM28 9h1v1h-1zM30 9h1v1h-1zM33 9h1v1h-1zM38 9h1v1h-1zM13 10h2v1h-2zM20 10h1v1h-1zM22 10h1v1h-1zM24 10h1v1h-1zM28 10h1v1h-1zM30 10h1v1h-1zM32 10h2v1h-2zM38 10h1v1h-1zM0 11h12v1h-12zM18 11h2v1h-2zM23 11h2v1h-2zM30 11h1v1h-1zM36 11h3v1h-3z"/></svg>
<div class="s" style="left:444px;top:529px;"></div>
<svg class="g" style="left:457px;top:524px" width="25" height="12" viewBox="0 0 25 12"><title>频率</title><path d="M3 0h1v1h-1zM7 0h5v1h-5zM19 0h1v1h-1zM1 1h1v1h-1zM3 1h1v1h-1zM9 1h1v1h-1zM13 1h12v1h-12zM1 2h1v1h-1zM3 2h3v1h-3zM8 2h1v1h-1zM14 2h1v1h-1zM18 2h1v1h-1zM23 2h1v1h-1zM1 3h1v1h-1zM3 3h1v1h-1zM7 3h5v1h-5zM15 3h1v1h-1zM17 3h1v1h-1zM20 3h1v1h-1zM22 3h1v1h-1zM0 4h6v1h-6zM7 4h1v1h-1zM11 4h1v1h-1zM18 4h2v1h-2zM3 5h1v1h-1zM7 5h1v1h-1zM9 5h1v1h-1zM11 5h1v1h-1zM16 5h1v1h-1zM18 5h1v1h-1zM20 5h1v1h-1zM22 5h1v1h-1zM1 6h1v1h-1zM3 6h1v1h-1zM5 6h1v1h-1zM7 6h1v1h-1zM9 6h1v1h-1zM11 6h1v1h-1zM14 6h2v1h-2zM17 6h5v1h-5zM23 6h1v1h-1zM1 7h1v1h-1zM3 7h1v1h-1zM5 7h1v1h-1zM7 7h1v1h-1zM9 7h1v1h-1zM11 7h1v1h-1zM19 7h1v1h-1zM0 8h1v1h-1zM3 8h2v1h-2zM7 8h1v1h-1zM9 8h1v1h-1zM11 8h1v1h-1zM13 8h12v1h-12zM3 9h1v1h-1zM7 9h1v1h-1zM9 9h1v1h-1zM19 9h1v1h-1zM2 10h1v1h-1zM8 10h1v1h-1zM10 10h1v1h-1zM19 10h1v1h-1zM0 11h2v1h-2zM6 11h2v1h-2zM11 11h1v1h-1zM19 11h1v1h-1z"/></svg>
<div class="s" style="left:485px;top:529px;"></div>
<div class="t" style="left:500.3px;top:522.2px;font-size:13px;">RS-485</div>
<div class="t" style="left:322.5px;top:540.4px;font-size:13px;">(</div>
<div class="t" style="left:331.2px;top:540.4px;font-size:13px;">Modbus</div>
<div class="t" style="left:373.5px;top:540.4px;font-size:13px;">)</div>
<div class="s" style="left:379px;top:547px;"></div>
<svg class="g" style="left:392px;top:543px" width="48" height="12" viewBox="0 0 48 12"><title>报警输出</title><path d="M2 0h1v1h-1zM5 0h6v1h-6zM13 0h6v1h-6zM20 0h1v1h-1zM26 0h1v1h-1zM33 0h1v1h-1zM42 0h1v1h-1zM2 1h1v1h-1zM5 1h1v1h-1zM10 1h1v1h-1zM14 1h1v1h-1zM17 1h1v1h-1zM20 1h4v1h-4zM26 1h1v1h-1zM32 1h1v1h-1zM34 1h1v1h-1zM39 1h1v1h-1zM42 1h1v1h-1zM46 1h1v1h-1zM2 2h1v1h-1zM5 2h1v1h-1zM10 2h1v1h-1zM13 2h6v1h-6zM20 2h1v1h-1zM22 2h1v1h-1zM25 2h5v1h-5zM31 2h1v1h-1zM35 2h1v1h-1zM39 2h1v1h-1zM42 2h1v1h-1zM46 2h1v1h-1zM0 3h6v1h-6zM8 3h2v1h-2zM12 3h1v1h-1zM14 3h1v1h-1zM16 3h1v1h-1zM18 3h1v1h-1zM21 3h1v1h-1zM26 3h1v1h-1zM30 3h1v1h-1zM32 3h3v1h-3zM36 3h1v1h-1zM39 3h1v1h-1zM42 3h1v1h-1zM46 3h1v1h-1zM2 4h1v1h-1zM5 4h1v1h-1zM14 4h1v1h-1zM16 4h1v1h-1zM18 4h1v1h-1zM20 4h1v1h-1zM22 4h1v1h-1zM25 4h1v1h-1zM27 4h1v1h-1zM39 4h8v1h-8zM2 5h1v1h-1zM5 5h6v1h-6zM13 5h11v1h-11zM25 5h8v1h-8zM36 5h1v1h-1zM42 5h1v1h-1zM2 6h2v1h-2zM5 6h1v1h-1zM7 6h1v1h-1zM10 6h1v1h-1zM27 6h1v1h-1zM30 6h1v1h-1zM32 6h1v1h-1zM34 6h1v1h-1zM36 6h1v1h-1zM42 6h1v1h-1zM0 7h3v1h-3zM5 7h1v1h-1zM7 7h1v1h-1zM10 7h1v1h-1zM15 7h7v1h-7zM27 7h1v1h-1zM30 7h3v1h-3zM34 7h1v1h-1zM36 7h1v1h-1zM38 7h1v1h-1zM42 7h1v1h-1zM47 7h1v1h-1zM2 8h1v1h-1zM5 8h1v1h-1zM7 8h1v1h-1zM9 8h1v1h-1zM27 8h4v1h-4zM32 8h1v1h-1zM34 8h1v1h-1zM36 8h1v1h-1zM38 8h1v1h-1zM42 8h1v1h-1zM47 8h1v1h-1zM2 9h1v1h-1zM5 9h1v1h-1zM8 9h1v1h-1zM15 9h7v1h-7zM25 9h3v1h-3zM30 9h3v1h-3zM34 9h1v1h-1zM36 9h1v1h-1zM38 9h1v1h-1zM42 9h1v1h-1zM47 9h1v1h-1zM0 10h1v1h-1zM2 10h1v1h-1zM5 10h1v1h-1zM7 10h1v1h-1zM9 10h1v1h-1zM15 10h1v1h-1zM21 10h1v1h-1zM27 10h1v1h-1zM30 10h1v1h-1zM32 10h1v1h-1zM36 10h1v1h-1zM38 10h10v1h-10zM1 11h1v1h-1zM5 11h2v1h-2zM10 11h2v1h-2zM15 11h7v1h-7zM27 11h1v1h-1zM30 11h1v1h-1zM32 11h1v1h-1zM35 11h2v1h-2zM38 11h1v1h-1zM47 11h1v1h-1z"/></svg>
<div class="t" style="left:319.1px;top:558.7px;font-size:13px;">2</div>
<div class="k" style="left:327px;top:566px;"></div>
<svg class="g" style="left:338px;top:562px" width="25" height="12" viewBox="0 0 25 12"><title>频率</title><path d="M3 0h1v1h-1zM7 0h5v1h-5zM19 0h1v1h-1zM1 1h1v1h-1zM3 1h1v1h-1zM9 1h1v1h-1zM13 1h12v1h-12zM1 2h1v1h-1zM3 2h3v1h-3zM8 2h1v1h-1zM14 2h1v1h-1zM18 2h1v1h-1zM23 2h1v1h-1zM1 3h1v1h-1zM3 3h1v1h-1zM7 3h5v1h-5zM15 3h1v1h-1zM17 3h1v1h-1zM20 3h1v1h-1zM22 3h1v1h-1zM0 4h6v1h-6zM7 4h1v1h-1zM11 4h1v1h-1zM18 4h2v1h-2zM3 5h1v1h-1zM7 5h1v1h-1zM9 5h1v1h-1zM11 5h1v1h-1zM16 5h1v1h-1zM18 5h1v1h-1zM20 5h1v1h-1zM22 5h1v1h-1zM1 6h1v1h-1zM3 6h1v1h-1zM5 6h1v1h-1zM7 6h1v1h-1zM9 6h1v1h-1zM11 6h1v1h-1zM14 6h2v1h-2zM17 6h5v1h-5zM23 6h1v1h-1zM1 7h1v1h-1zM3 7h1v1h-1zM5 7h1v1h-1zM7 7h1v1h-1zM9 7h1v1h-1zM11 7h1v1h-1zM19 7h1v1h-1zM0 8h1v1h-1zM3 8h2v1h-2zM7 8h1v1h-1zM9 8h1v1h-1zM11 8h1v1h-1zM13 8h12v1h-12zM3 9h1v1h-1zM7 9h1v1h-1zM9 9h1v1h-1zM19 9h1v1h-1zM2 10h1v1h-1zM8 10h1v1h-1zM10 10h1v1h-1zM19 10h1v1h-1zM0 11h2v1h-2zM6 11h2v1h-2zM11 11h1v1h-1zM19 11h1v1h-1z"/></svg>
<div class="s" style="left:364px;top:566px;"></div>
<div class="t" style="left:375.6px;top:558.7px;font-size:13px;">RS-485</div>
<div class="t" style="left:416.5px;top:558.7px;font-size:13px;">(</div>
<div class="t" style="left:425.8px;top:558.7px;font-size:13px;">Modbus</div>
<div class="t" style="left:470.0px;top:558.7px;font-size:13px;">)</div>
<svg class="g" style="left:481px;top:562px" width="47" height="12" viewBox="0 0 47 12"><title>报警输出</title><path d="M2 0h1v1h-1zM5 0h6v1h-6zM13 0h6v1h-6zM20 0h1v1h-1zM25 0h1v1h-1zM32 0h1v1h-1zM41 0h1v1h-1zM2 1h1v1h-1zM5 1h1v1h-1zM10 1h1v1h-1zM14 1h1v1h-1zM17 1h1v1h-1zM20 1h4v1h-4zM25 1h1v1h-1zM31 1h1v1h-1zM33 1h1v1h-1zM38 1h1v1h-1zM41 1h1v1h-1zM45 1h1v1h-1zM2 2h1v1h-1zM5 2h1v1h-1zM10 2h1v1h-1zM13 2h6v1h-6zM20 2h1v1h-1zM22 2h1v1h-1zM24 2h5v1h-5zM30 2h1v1h-1zM34 2h1v1h-1zM38 2h1v1h-1zM41 2h1v1h-1zM45 2h1v1h-1zM0 3h6v1h-6zM8 3h2v1h-2zM12 3h1v1h-1zM14 3h1v1h-1zM16 3h1v1h-1zM18 3h1v1h-1zM21 3h1v1h-1zM25 3h1v1h-1zM29 3h1v1h-1zM31 3h3v1h-3zM35 3h1v1h-1zM38 3h1v1h-1zM41 3h1v1h-1zM45 3h1v1h-1zM2 4h1v1h-1zM5 4h1v1h-1zM14 4h1v1h-1zM16 4h1v1h-1zM18 4h1v1h-1zM20 4h1v1h-1zM22 4h1v1h-1zM24 4h1v1h-1zM26 4h1v1h-1zM38 4h8v1h-8zM2 5h1v1h-1zM5 5h6v1h-6zM13 5h19v1h-19zM35 5h1v1h-1zM41 5h1v1h-1zM2 6h2v1h-2zM5 6h1v1h-1zM7 6h1v1h-1zM10 6h1v1h-1zM26 6h1v1h-1zM29 6h1v1h-1zM31 6h1v1h-1zM33 6h1v1h-1zM35 6h1v1h-1zM41 6h1v1h-1zM0 7h3v1h-3zM5 7h1v1h-1zM7 7h1v1h-1zM10 7h1v1h-1zM15 7h7v1h-7zM26 7h1v1h-1zM29 7h3v1h-3zM33 7h1v1h-1zM35 7h1v1h-1zM37 7h1v1h-1zM41 7h1v1h-1zM46 7h1v1h-1zM2 8h1v1h-1zM5 8h1v1h-1zM7 8h1v1h-1zM9 8h1v1h-1zM26 8h4v1h-4zM31 8h1v1h-1zM33 8h1v1h-1zM35 8h1v1h-1zM37 8h1v1h-1zM41 8h1v1h-1zM46 8h1v1h-1zM2 9h1v1h-1zM5 9h1v1h-1zM8 9h1v1h-1zM15 9h7v1h-7zM24 9h3v1h-3zM29 9h3v1h-3zM33 9h1v1h-1zM35 9h1v1h-1zM37 9h1v1h-1zM41 9h1v1h-1zM46 9h1v1h-1zM0 10h1v1h-1zM2 10h1v1h-1zM5 10h1v1h-1zM7 10h1v1h-1zM9 10h1v1h-1zM15 10h1v1h-1zM21 10h1v1h-1zM26 10h1v1h-1zM29 10h1v1h-1zM31 10h1v1h-1zM35 10h1v1h-1zM37 10h10v1h-10zM1 11h1v1h-1zM5 11h2v1h-2zM10 11h2v1h-2zM15 11h7v1h-7zM26 11h1v1h-1zM29 11h1v1h-1zM31 11h1v1h-1zM34 11h2v1h-2zM37 11h1v1h-1zM46 11h1v1h-1z"/></svg>
</body></html>
